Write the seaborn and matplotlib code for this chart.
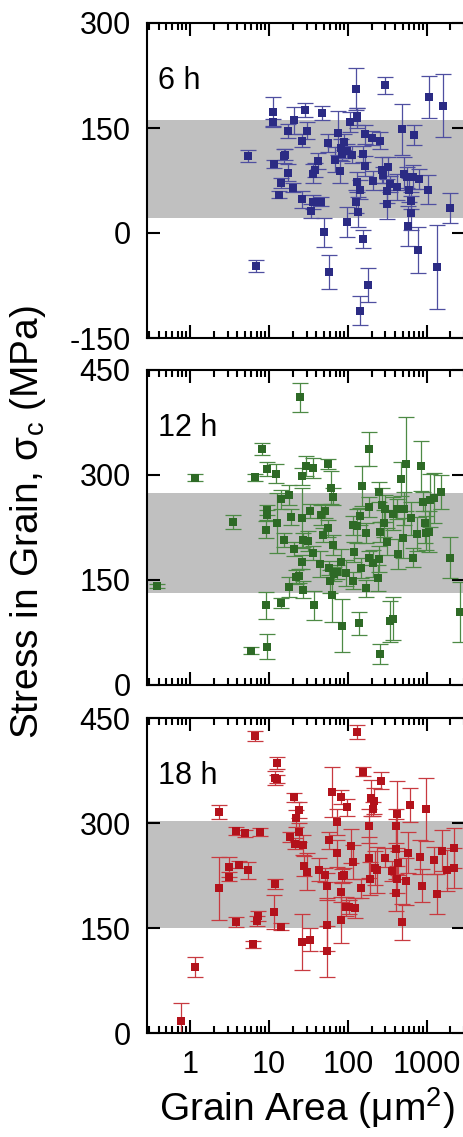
import numpy as np
import pandas as pd
import seaborn as sns
import matplotlib.pyplot as plt
from matplotlib.ticker import FixedLocator, NullFormatter, LogLocator, NullLocator

# 6 h anneal
area_6h = [5.4, 6.9, 11.4, 11.2, 11.5, 13.6, 14.1, 15.7, 16.1, 17.6, 17.6, 20.8, 20.4, 26, 29, 30.4,
           26.5, 34.5, 36.7, 36, 38, 41.9, 45.7, 47.5, 49.5, 56.6, 57, 68.9, 74.5, 78.5, 81.7, 85,
           89, 96.8, 96.8, 113, 108, 127, 130, 131, 130, 127, 136, 142, 156, 156, 167, 165, 182,
           141, 200, 210, 256, 272, 280, 299, 310, 318, 325, 342, 416, 486, 520, 556, 590, 575,
           625, 625, 663, 688, 791, 765, 1040, 1080, 1337, 1625, 1973]
stress_6h = [110, -47, 173, 158, 99, 55, 71, 110, 112, 146, 86, 161, 65, 132, 176, 146,
             48, 31, 44, 85, 90, 103, 45, 171, 1, 129, -56, 105, 143, 88, 121, 113,
             130, 16, 117, 112, 159, 206, 164, 167, 73, 45, 30, 62, 113, -8, 96, 141, -74,
             -111, 136, 75, 132, 90, 83, 211, 60, 41, 95, 70, 66, 148, 85, 80, 62, 10,
             29, 46, 80, 140, 77, -24, 62, 194, -48, 182, 36]
err_6h = [9, 8, 22, 5, 6, 5, 7, 10, 8, 10, 12, 19, 6, 9, 10, 12,
          12, 10, 10, 14, 10, 12, 7, 10, 21, 13, 24, 18, 31, 17, 14, 10,
          12, 21, 10, 12, 14, 30, 14, 12, 14, 17, 21, 14, 12, 13, 14, 14, 24,
          21, 10, 14, 12, 19, 12, 12, 17, 21, 14, 12, 19, 36, 24, 15, 17, 29,
          24, 12, 17, 14, 14, 33, 21, 30, 60, 45, 21]

# 12 h anneal
area_12h = [0.385, 1.16, 3.54, 5.87, 6.67, 8.2, 9.4, 9.3, 9.6, 9.6, 9.5, 9.2, 12.3, 12.8, 14.1, 14.1,
            15.5, 18.2, 18, 18.8, 20.8, 21.8, 23.8, 24.8, 26.5, 26, 26.7, 26.5, 27.2, 29.5, 31, 33,
            36.6, 36.8, 36.6, 45, 46.4, 47.9, 51, 55.6, 56.6, 58, 61, 64, 64, 62.5, 59.6, 66.5,
            72, 82.8, 85, 93.8, 115, 117, 121, 132, 137, 141, 148, 153, 168, 171, 184, 185,
            185, 208, 239, 250, 248, 255, 268, 286, 310, 300, 342, 370, 255, 378, 415, 437,
            468, 512, 507, 541, 625, 677, 755, 847, 887, 945, 965, 1070, 1090, 1240, 1503, 1973, 2641]
stress_12h = [141, 296, 233, 49, 297, 337, 309, 114, 55, 250, 243, 222, 302, 231, 265, 117,
              207, 271, 140, 240, 195, 155, 156, 411, 298, 239, 136, 176, 207, 313, 206, 248,
              310, 114, 188, 173, 243, 214, 248, 316, 224, 167, 282, 269, 200, 128, 148, 158,
              162, 176, 85, 160, 149, 228, 190, 227, 88, 241, 167, 284, 138, 217, 337, 254,
              182, 174, 153, 276, 180, 219, 257, 231, 205, 252, 91, 95, 44, 245, 251, 187,
              294, 252, 210, 316, 238, 182, 216, 313, 262, 232, 217, 219, 264, 267, 276, 182, 104]
err_12h = [3, 5, 10, 5, 5, 9, 10, 19, 18, 7, 7, 12, 14, 43, 14, 7,
           10, 14, 14, 12, 10, 10, 10, 21, 12, 43, 12, 10, 10, 14, 14, 10,
           14, 21, 10, 19, 14, 10, 10, 7, 12, 10, 24, 12, 14, 38, 17, 10,
           10, 19, 38, 19, 12, 14, 14, 24, 17, 12, 14, 29, 12, 14, 24, 14,
           10, 19, 19, 14, 19, 14, 24, 19, 19, 19, 29, 31, 14, 24, 14, 21,
           24, 24, 29, 67, 24, 14, 24, 36, 14, 29, 24, 29, 38, 36, 24, 29, 43]

# 18 h anneal
area_18h = [0.78, 1.17, 2.31, 2.31, 3.12, 3.12, 3.87, 3.87, 4.17, 5.0, 5.4, 6.35, 6.6, 7.0, 7.3, 7.7,
            11.6, 11.9, 12.5, 11.9, 12.7, 14.1, 18.5, 21, 22, 24.3, 24.3, 21.3, 26.8, 26, 28, 30,
            33, 43.6, 51, 54, 55, 57, 55, 63.7, 72, 73.5, 82, 81, 82, 84, 89, 95, 98.5, 105,
            109, 115, 123, 129, 145, 154, 184, 187, 191, 196, 215, 210, 222, 235, 261, 295,
            365, 405, 405, 416, 410, 416, 437, 486, 545, 575, 612, 822, 862, 980, 1237, 1337,
            1550, 1825, 2219, 2200]
stress_18h = [18, 95, 316, 207, 238, 224, 289, 159, 241, 286, 233, 127, 425, 160, 168, 288,
              173, 213, 386, 365, 363, 152, 281, 337, 307, 319, 287, 271, 269, 131, 239, 231,
              134, 234, 226, 117, 155, 276, 210, 345, 257, 302, 338, 202, 162, 225, 226, 181, 323, 180,
              268, 245, 179, 431, 207, 374, 296, 251, 221, 336, 332, 321, 236, 233, 361, 251,
              232, 263, 296, 313, 201, 220, 243, 159, 217, 258, 326, 252, 211, 320, 247, 199,
              261, 233, 265, 236]
err_18h = [26, 14, 10, 45, 14, 6, 6, 7, 5, 5, 12, 5, 7, 7, 7, 6,
           24, 7, 9, 10, 6, 5, 7, 7, 12, 12, 14, 8, 14, 40, 14, 26,
           17, 17, 10, 36, 38, 12, 19, 36, 19, 19, 10, 14, 33, 10, 10, 14, 12, 10,
           24, 24, 14, 10, 14, 6, 24, 29, 24, 26, 19, 10, 24, 33, 12, 14,
           14, 43, 24, 48, 26, 19, 17, 26, 33, 29, 24, 24, 24, 45, 19, 29,
           29, 29, 29, 29]

panels = [
    ('6 h', area_6h, stress_6h, err_6h, (22, 162), (-150, 300), [-150, 0, 150, 300], '#2b2b84', '#4f4fa0'),
    ('12 h', area_12h, stress_12h, err_12h, (132, 274), (0, 450), [0, 150, 300, 450], '#2e6a26', '#4d8a45'),
    ('18 h', area_18h, stress_18h, err_18h, (150, 303), (0, 450), [0, 150, 300, 450], '#b3121b', '#c83a40'),
]

sns.set_style('ticks')
rc = plt.rcParams
rc['font.family'] = ['Liberation Sans', 'DejaVu Sans']
rc['axes.unicode_minus'] = False
rc['mathtext.default'] = 'regular'
rc['text.color'] = 'black'
rc['axes.labelcolor'] = 'black'
rc['axes.edgecolor'] = 'black'
rc['axes.linewidth'] = 1.5
for a in ('xtick', 'ytick'):
    rc[a + '.direction'] = 'in'
    rc[a + '.color'] = 'black'
    rc[a + '.labelcolor'] = 'black'
    rc[a + '.major.size'] = 9.5
    rc[a + '.minor.size'] = 5
    rc[a + '.major.width'] = 1.5
    rc[a + '.minor.width'] = 1.5
    rc[a + '.major.pad'] = 12
    rc[a + '.labelsize'] = 22

fig = plt.figure(figsize=(4.64, 11.37), dpi=100)
left = 147.3 / 464
width = (465.5 - 147.3) / 464
bottoms = [1 - 338 / 1137, 1 - 685 / 1137, 1 - 1033.3 / 1137]
h = 315 / 1137

for i, (name, area, stress, err, band, ylim, yticks, col, ecol) in enumerate(panels):
    ax = fig.add_axes([left, bottoms[i], width, h])
    df = pd.DataFrame({'area': area, 'stress': stress, 'err': err})
    ax.axhspan(band[0], band[1], color='#c0c0c0', lw=0, zorder=0)
    ax.errorbar(df['area'], df['stress'], yerr=df['err'], fmt='none', ecolor=ecol,
                elinewidth=0.9, capsize=5.5, capthick=0.9, zorder=2)
    sns.scatterplot(data=df, x='area', y='stress', marker='s', s=36, color=col,
                    linewidth=0, ax=ax, zorder=3)
    ax.set_xscale('log')
    ax.set_xlim(0.288, 3100)
    ax.set_ylim(*ylim)
    ax.yaxis.set_major_locator(FixedLocator(yticks))
    ax.yaxis.set_minor_locator(NullLocator())
    ax.xaxis.set_major_locator(FixedLocator([1, 10, 100, 1000]))
    ax.xaxis.set_minor_locator(LogLocator(base=10, subs=np.arange(2, 10), numticks=100))
    ax.xaxis.set_minor_formatter(NullFormatter())
    ax.set_xlabel('')
    ax.set_ylabel('')
    ax.tick_params(which='both', direction='in', top=True, bottom=True, left=True, right=True)
    if i < 2:
        ax.tick_params(axis='x', labelbottom=False)
    else:
        ax.set_xticklabels(['1', '10', '100', '1000'])
        ax.set_xlabel('Grain Area (μm$^2$)', fontsize=28, labelpad=4)
    ax.text(0.034, 0.79, name, transform=ax.transAxes, fontsize=22, va='baseline', ha='left')

fig.text(28 / 464, 1 - 522 / 1137, 'Stress in Grain, σ$_c$ (MPa)', rotation=90,
         fontsize=28, ha='center', va='center')

fig.savefig('out.png', dpi=100)
